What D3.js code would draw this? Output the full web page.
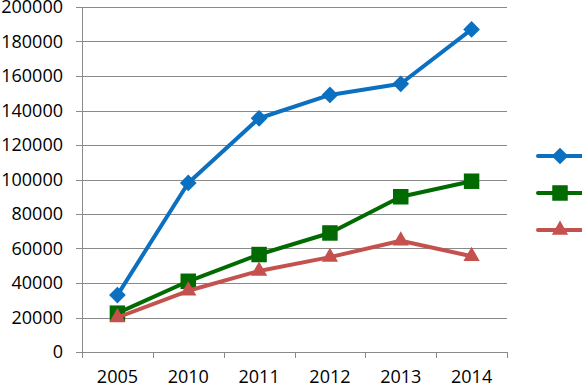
<!DOCTYPE html>
<html>
<head>
<meta charset="utf-8">
<script src="https://cdn.jsdelivr.net/npm/d3@7"></script>
<style>
  body { margin: 0; background: #fff; }
  text { font-family: "Open Sans", sans-serif; }
</style>
</head>
<body>
<script>
// values
const years = ["2005", "2010", "2011", "2012", "2013", "2014"];
const blueSeries = [33000, 98000, 135500, 149000, 155500, 187000];
const greenSeries = [22500, 41000, 56500, 69000, 90000, 99000];
const redSeries = [20000, 35500, 47000, 55000, 64500, 55500];
const yTicks = [0, 20000, 40000, 60000, 80000, 100000, 120000, 140000, 160000, 180000, 200000];

// diamond = square turned 45deg, like the spreadsheet marker
const series = [
  {values: blueSeries, color: "#0c70c1", marker: d3.symbolSquare, size: 140, rotate: 45},
  {values: greenSeries, color: "#016b01", marker: d3.symbolSquare, size: 240, rotate: 0},
  {values: redSeries, color: "#c4514e", marker: d3.symbolTriangle, size: 115, rotate: 0}
];

const width = 582, height = 386;
const margin = {top: 7, right: 75, bottom: 34, left: 82};

const svg = d3.select("body").append("svg")
    .attr("width", width)
    .attr("height", height);

const x = d3.scaleBand()
    .domain(years)
    .range([margin.left, width - margin.right]);

const y = d3.scaleLinear()
    .domain([0, 200000])
    .range([height - margin.bottom, margin.top]);

// gridlines
svg.append("g")
  .selectAll("line")
  .data(yTicks)
  .enter().append("line")
    .attr("x1", margin.left - 6)
    .attr("x2", width - margin.right)
    .attr("y1", d => Math.round(y(d)) + 0.5)
    .attr("y2", d => Math.round(y(d)) + 0.5)
    .attr("stroke", "#8a8a8a")
    .attr("stroke-width", 1);

// y labels
svg.append("g")
  .selectAll("text")
  .data(yTicks)
  .enter().append("text")
    .attr("x", margin.left - 19)
    .attr("y", d => y(d))
    .attr("dy", "0.36em")
    .attr("text-anchor", "end")
    .attr("font-size", "18px")
    .attr("fill", "#000")
    .text(d => d);

// y axis line
svg.append("line")
    .attr("x1", margin.left + 0.5)
    .attr("x2", margin.left + 0.5)
    .attr("y1", margin.top)
    .attr("y2", height - margin.bottom)
    .attr("stroke", "#8a8a8a");

// x axis labels
const xAxis = svg.append("g")
    .attr("transform", `translate(0, ${Math.round(y(0)) + 0.5})`)
    .call(d3.axisBottom(x).tickSize(0).tickFormat(d => d));
xAxis.select(".domain").remove();
xAxis.selectAll("text")
    .attr("font-size", "18px")
    .attr("font-family", "Open Sans, sans-serif")
    .attr("fill", "#000")
    .attr("dy", "0")
    .attr("y", 30);

// x ticks sit between categories
const boundaries = years.map(d => x(d)).concat([x.range()[1]]);
svg.append("g")
  .selectAll("line")
  .data(boundaries)
  .enter().append("line")
    .attr("x1", d => Math.round(d) + 0.5)
    .attr("x2", d => Math.round(d) + 0.5)
    .attr("y1", Math.round(y(0)))
    .attr("y2", Math.round(y(0)) + 6)
    .attr("stroke", "#8a8a8a");

// series lines and markers
const line = d3.line()
    .x((d, i) => x(years[i]) + x.bandwidth() / 2)
    .y(d => y(d));

series.forEach(s => {
  svg.append("path")
      .datum(s.values)
      .attr("fill", "none")
      .attr("stroke", s.color)
      .attr("stroke-width", 4)
      .attr("stroke-linejoin", "round")
      .attr("d", line);

  svg.append("g")
    .selectAll("path")
    .data(s.values)
    .enter().append("path")
      .attr("transform", (d, i) => `translate(${x(years[i]) + x.bandwidth() / 2}, ${y(d)}) rotate(${s.rotate})`)
      .attr("d", d3.symbol().type(s.marker).size(s.size))
      .attr("fill", s.color);
});

// legend (labels cut off at the right edge)
const legendY = [156, 193, 230];
const legend = svg.append("g");
series.forEach((s, i) => {
  legend.append("line")
      .attr("x1", 538)
      .attr("x2", 590)
      .attr("y1", legendY[i])
      .attr("y2", legendY[i])
      .attr("stroke", s.color)
      .attr("stroke-width", 4)
      .attr("stroke-linecap", "round");
  legend.append("path")
      .attr("transform", `translate(560, ${legendY[i]}) rotate(${s.rotate})`)
      .attr("d", d3.symbol().type(s.marker).size(s.size))
      .attr("fill", s.color);
});
</script>
</body>
</html>
